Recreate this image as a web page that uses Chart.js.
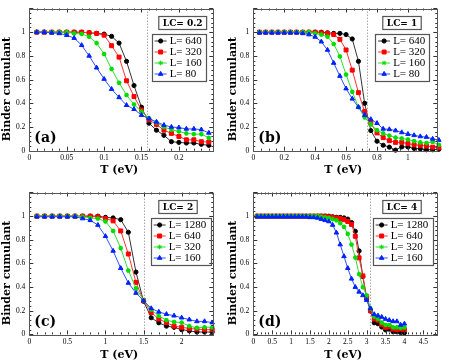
<!DOCTYPE html>
<html>
<head>
<meta charset="utf-8">
<script src="https://cdn.jsdelivr.net/npm/chart.js@4"></script>
<style>
html, body { margin: 0; padding: 0; background: #fff; }
#wrap { position: relative; width: 462px; height: 360px; overflow: hidden; }
canvas { position: absolute; }
</style>
</head>
<body>
<div id="wrap">
  <canvas id="pa" width="231" height="184" style="left:0;top:0"></canvas>
  <canvas id="pb" width="236" height="184" style="left:226px;top:0"></canvas>
  <canvas id="pc" width="231" height="176" style="left:0;top:184px"></canvas>
  <canvas id="pd" width="236" height="176" style="left:226px;top:184px"></canvas>
</div>
<script>
// ---- panel (a) LC = 0.2 ----
const tA = [0.01,0.02,0.03,0.04,0.05,0.06,0.07,0.08,0.09,0.10,0.11,0.12,0.13,0.14,0.15,0.16,0.17,0.18,0.19,0.20,0.21,0.22,0.23,0.24];
const a640 = [1,1,1,1,1,1,1,0.995,0.99,0.984,0.965,0.908,0.754,0.55,0.367,0.232,0.173,0.13,0.076,0.07,0.065,0.065,0.054,0.045];
const a320 = [1,1,1,1,1,1,1,0.995,0.99,0.975,0.886,0.79,0.59,0.457,0.343,0.26,0.222,0.173,0.146,0.12,0.092,0.092,0.076,0.073];
const a160 = [1,1,1,1,1,0.99,0.985,0.962,0.908,0.816,0.69,0.573,0.47,0.39,0.33,0.275,0.238,0.2,0.178,0.162,0.146,0.14,0.14,0.108];
const a80  = [1,1,0.995,0.99,0.975,0.95,0.89,0.80,0.70,0.605,0.52,0.45,0.384,0.35,0.30,0.27,0.243,0.216,0.2,0.195,0.184,0.184,0.178,0.15];

// ---- panel (b) LC = 1 ----
const tB = [0.04,0.08,0.12,0.16,0.20,0.24,0.28,0.32,0.36,0.40,0.44,0.48,0.52,0.56,0.60,0.64,0.68,0.72,0.76,0.80,0.84,0.88,0.92,0.96,1.00,1.04,1.08,1.12,1.16,1.20];
const b640 = [1,1,1,1,1,1,1,1,1,1,1,0.995,0.99,0.99,0.98,0.943,0.754,0.40,0.17,0.08,0.046,0.03,0.005,0.032,0.032,0.019,0.016,0.008,0.008,0.012];
const b320 = [1,1,1,1,1,1,1,1,1,1,0.995,0.99,0.98,0.94,0.85,0.68,0.49,0.33,0.23,0.15,0.11,0.085,0.07,0.07,0.06,0.05,0.045,0.04,0.03,0.025];
const b160 = [1,1,1,1,1,1,1,1,1,0.99,0.98,0.962,0.90,0.795,0.643,0.497,0.368,0.281,0.222,0.173,0.146,0.127,0.11,0.103,0.095,0.08,0.07,0.065,0.075,0.05];
const b80  = [0.995,0.995,0.995,0.995,0.995,0.995,0.995,0.99,0.98,0.96,0.92,0.85,0.74,0.63,0.524,0.438,0.368,0.30,0.265,0.232,0.184,0.18,0.17,0.154,0.14,0.13,0.12,0.115,0.10,0.09];

// ---- panel (c) LC = 2 ----
const tC = [0.1,0.2,0.3,0.4,0.5,0.6,0.7,0.8,0.9,1.0,1.1,1.2,1.3,1.4,1.5,1.6,1.7,1.8,1.9,2.0,2.1,2.2,2.3,2.4];
const c1280 = [1,1,1,1,1,1,1,1,1,0.99,0.985,0.97,0.864,0.527,0.28,0.141,0.098,0.07,0.06,0.04,0.03,0.02,0.02,0.02];
const c640  = [1,1,1,1,1,1,1,1,0.995,0.98,0.96,0.875,0.68,0.44,0.285,0.185,0.13,0.10,0.07,0.06,0.05,0.045,0.04,0.04];
const c320  = [1,1,1,1,1,1,0.995,0.985,0.98,0.955,0.875,0.73,0.54,0.39,0.29,0.21,0.155,0.12,0.105,0.10,0.07,0.055,0.06,0.06];
const c160  = [0.995,0.995,0.995,0.995,0.995,0.995,0.98,0.965,0.925,0.83,0.706,0.56,0.435,0.35,0.285,0.22,0.19,0.171,0.158,0.141,0.125,0.11,0.11,0.10];

// ---- panel (d) LC = 4 ----
const tD = [0.1,0.2,0.3,0.4,0.5,0.6,0.7,0.8,0.9,1.0,1.1,1.2,1.3,1.4,1.5,1.6,1.7,1.8,1.9,2.0,2.1,2.2,2.3,2.4,2.5,2.6,2.7,2.8,2.9,3.0,3.1,3.2,3.3,3.4,3.5,3.6,3.7,3.8,3.9,4.0];
const d1280 = [1,1,1,1,1,1,1,1,1,1,1,1,1,1,1,1,1,1,1,1,0.995,0.99,0.99,0.985,0.975,0.946,0.872,0.706,0.489,0.299,0.198,0.098,0.09,0.062,0.038,0.044,0.022,0.022,0.016,0.013];
const d640  = [1,1,1,1,1,1,1,1,1,1,1,1,1,1,1,1,1,1,1,0.995,0.99,0.985,0.98,0.97,0.955,0.93,0.83,0.647,0.495,0.32,0.2,0.13,0.12,0.085,0.06,0.065,0.045,0.04,0.045,0.04];
const d320  = [1,1,1,1,1,1,1,1,1,1,1,1,1,1,1,1,1,0.995,0.99,0.985,0.975,0.965,0.94,0.91,0.85,0.76,0.65,0.51,0.40,0.33,0.22,0.15,0.13,0.10,0.08,0.08,0.06,0.06,0.055,0.06];
const d160  = [0.995,0.995,0.995,0.995,0.995,0.995,0.995,0.995,0.995,0.995,0.995,0.995,0.995,0.995,0.99,0.99,0.985,0.975,0.965,0.955,0.925,0.86,0.76,0.66,0.56,0.47,0.40,0.36,0.33,0.29,0.22,0.17,0.158,0.147,0.13,0.12,0.11,0.11,0.08,0.09];

// axis ticks (labelled)
const yTicks = [0, 0.2, 0.4, 0.6, 0.8, 1];
const xTicksA = [0, 0.05, 0.1, 0.15, 0.2];
const xTicksB = [0, 0.2, 0.4, 0.6, 0.8, 1];
const xTicksC = [0, 0.5, 1, 1.5, 2];
const xTicksD = [0, 0.5, 1, 1.5, 2, 2.5, 3, 3.5, 4, 4.5];

// ---- style ----
const SERIES_STYLE = [
  { color: '#000000', line: '#333333', point: 'circle',   radius: 2.1 },
  { color: '#ff0000', line: '#ff3030', point: 'rect',     radius: 2.8 },
  { color: '#00dd00', line: '#30dd30', point: 'star',     radius: 2.3 },
  { color: '#0022ff', line: '#3050ff', point: 'triangle', radius: 2.6 }
];
const TICK_FONT = { family: "'Liberation Serif', serif", size: 7.5 };
const BOLD_SERIF = "'DejaVu Serif', serif";

// ---- panel decorations: frame, inward ticks, Tc line, boxes, legend, titles ----
const panelDeco = {
  id: 'panelDeco',
  beforeDatasetsDraw(chart, args, o) {
    const { ctx, chartArea: a, scales: { x } } = chart;
    const px = Math.round(x.getPixelForValue(o.tc)) + 0.5;
    ctx.save();
    ctx.strokeStyle = '#a8a8a8';
    ctx.lineWidth = 1;
    ctx.setLineDash([1.5, 1.5]);
    ctx.beginPath();
    ctx.moveTo(px, a.top);
    ctx.lineTo(px, a.bottom);
    ctx.stroke();
    ctx.restore();
  },
  afterDraw(chart, args, o) {
    const { ctx, chartArea: a, scales: { x, y } } = chart;
    ctx.save();

    // inward ticks on all four sides
    ctx.strokeStyle = '#333';
    ctx.lineWidth = 1;
    ctx.beginPath();
    for (let v = 0; v <= x.max + 1e-9; v += o.xMinor) {
      const px = Math.round(x.getPixelForValue(v)) + 0.5;
      const isMajor = Math.abs(v / o.xMajor - Math.round(v / o.xMajor)) < 1e-6;
      const len = isMajor ? 4 : 2;
      ctx.moveTo(px, a.bottom); ctx.lineTo(px, a.bottom - len);
      ctx.moveTo(px, a.top); ctx.lineTo(px, a.top + len);
    }
    for (let v = 0; v <= y.max + 1e-9; v += o.yMinor) {
      const py = Math.round(y.getPixelForValue(v)) + 0.5;
      const isMajor = Math.abs(v / 0.2 - Math.round(v / 0.2)) < 1e-6;
      const len = isMajor ? 4 : 2;
      ctx.moveTo(a.left, py); ctx.lineTo(a.left + len, py);
      ctx.moveTo(a.right, py); ctx.lineTo(a.right - len, py);
    }
    ctx.stroke();

    // frame
    ctx.strokeStyle = '#555';
    ctx.strokeRect(Math.round(a.left) + 0.5, Math.round(a.top) + 0.5,
                   Math.round(a.right - a.left), Math.round(a.bottom - a.top));

    // LC label box
    ctx.font = 'bold 9px ' + BOLD_SERIF;
    ctx.fillStyle = '#000';
    ctx.textBaseline = 'middle';
    const lcW = ctx.measureText(o.lc).width;
    const lcX = a.right - 55, lcY = a.top + 7.5;
    ctx.strokeStyle = '#555';
    ctx.lineWidth = 1.2;
    ctx.strokeRect(lcX + 0.5, lcY + 0.5, lcW + 8, 13);
    ctx.fillText(o.lc, lcX + 4.5, lcY + 7.2);

    // legend box
    ctx.font = "11px 'Liberation Serif', serif";
    const labels = chart.data.datasets.map(d => d.label);
    const textW = Math.max(...labels.map(t => ctx.measureText(t).width));
    const boxR = a.right - o.legRight;
    const boxW = 18 + textW + 4;
    const boxL = boxR - boxW;
    const boxT = a.top + 25.5;
    ctx.lineWidth = 1.2;
    ctx.strokeRect(Math.round(boxL) + 0.5, boxT + 0.5, Math.round(boxW), 47);
    chart.data.datasets.forEach((d, i) => {
      const ry = boxT + 7 + i * 11;
      const st = SERIES_STYLE[i];
      ctx.strokeStyle = st.line;
      ctx.lineWidth = 1;
      ctx.beginPath();
      ctx.moveTo(boxL + 3, ry); ctx.lineTo(boxL + 15, ry);
      ctx.stroke();
      ctx.fillStyle = st.color;
      ctx.strokeStyle = st.color;
      Chart.helpers.drawPoint(ctx, { pointStyle: st.point, radius: st.radius, borderWidth: st.point === 'star' ? 1.4 : 1, rotation: 0 }, boxL + 9, ry);
      ctx.fillStyle = '#000';
      ctx.fillText(d.label, boxL + 18, ry + 0.5);
    });

    // panel letter
    ctx.font = 'bold 14px ' + BOLD_SERIF;
    ctx.fillStyle = '#000';
    ctx.fillText(o.letter, a.left + 5, a.bottom - 12.5);

    // axis titles
    ctx.font = 'bold 11px ' + BOLD_SERIF;
    ctx.textAlign = 'center';
    ctx.fillText('T (eV)', (a.left + a.right) / 2 - 2, o.xTitleY);
    ctx.translate(7, y.getPixelForValue(0.52));
    ctx.rotate(-Math.PI / 2);
    ctx.fillText('Binder cumulant', 0, 0);
    ctx.restore();
  }
};

function makePanel(id, geo, deco, xMax, xTicks, tVals, series, labels) {
  const canvas = document.getElementById(id);
  const datasets = series.map((vals, i) => ({
    label: labels[i],
    data: tVals.map((t, k) => ({ x: t, y: vals[k] })),
    borderColor: SERIES_STYLE[i].line,
    backgroundColor: SERIES_STYLE[i].color,
    pointBorderColor: SERIES_STYLE[i].color,
    pointBackgroundColor: SERIES_STYLE[i].color,
    pointStyle: SERIES_STYLE[i].point,
    pointRadius: SERIES_STYLE[i].radius,
    pointBorderWidth: SERIES_STYLE[i].point === 'star' ? 1.4 : 1,
    borderWidth: 1,
    tension: 0,
    order: 4 - i
  }));
  return new Chart(canvas.getContext('2d'), {
    type: 'line',
    data: { datasets },
    options: {
      responsive: false,
      devicePixelRatio: 1,
      animation: false,
      clip: false,
      layout: { padding: { left: 0, top: geo.top, right: canvas.width - geo.right, bottom: 0 } },
      plugins: { legend: { display: false }, tooltip: { enabled: false }, panelDeco: deco },
      scales: {
        x: {
          type: 'linear', min: 0, max: xMax,
          afterBuildTicks: s => { s.ticks = xTicks.map(v => ({ value: v })); },
          afterFit: s => { s.height = canvas.height - geo.bottom; },
          grid: { display: false, drawTicks: false },
          border: { display: false },
          ticks: { font: TICK_FONT, color: '#000', padding: 3, maxRotation: 0, autoSkip: false,
                   callback: v => String(Math.round(v * 1000) / 1000) }
        },
        y: {
          type: 'linear', min: 0, max: 1.2,
          afterBuildTicks: s => { s.ticks = yTicks.map(v => ({ value: v })); },
          afterFit: s => { s.width = geo.left; },
          grid: { display: false, drawTicks: false },
          border: { display: false },
          ticks: { font: TICK_FONT, color: '#000', padding: 4,
                   callback: v => String(Math.round(v * 10) / 10) }
        }
      }
    },
    plugins: [panelDeco]
  });
}

makePanel('pa', { left: 29.3, right: 213.3, top: 2.6, bottom: 150.7 },
  { tc: 0.157, xMajor: 0.05, xMinor: 0.01, yMinor: 0.04, lc: 'LC= 0.2', letter: '(a)', legRight: 7.5, xTitleY: 170 },
  0.246, xTicksA, tA, [a640, a320, a160, a80], ['L= 640', 'L= 320', 'L= 160', 'L= 80']);

makePanel('pb', { left: 27.3, right: 211.3, top: 2.6, bottom: 150.7 },
  { tc: 0.735, xMajor: 0.2, xMinor: 0.05, yMinor: 0.04, lc: 'LC= 1', letter: '(b)', legRight: 8, xTitleY: 170 },
  1.19, xTicksB, tB, [b640, b320, b160, b80], ['L= 640', 'L= 320', 'L= 160', 'L= 80']);

makePanel('pc', { left: 29.3, right: 213.3, top: 2.6, bottom: 150.4 },
  { tc: 1.505, xMajor: 0.5, xMinor: 0.1, yMinor: 0.04, lc: 'LC= 2', letter: '(c)', legRight: 3, xTitleY: 171 },
  2.415, xTicksC, tC, [c1280, c640, c320, c160], ['L= 1280', 'L= 640', 'L= 320', 'L= 160']);

makePanel('pd', { left: 27.3, right: 211.3, top: 2.6, bottom: 150.4 },
  { tc: 3.08, xMajor: 0.5, xMinor: 0.1, yMinor: 0.04, lc: 'LC= 4', letter: '(d)', legRight: 5, xTitleY: 171 },
  4.87, xTicksD, tD, [d1280, d640, d320, d160], ['L= 1280', 'L= 640', 'L= 320', 'L= 160']);
</script>
</body>
</html>
